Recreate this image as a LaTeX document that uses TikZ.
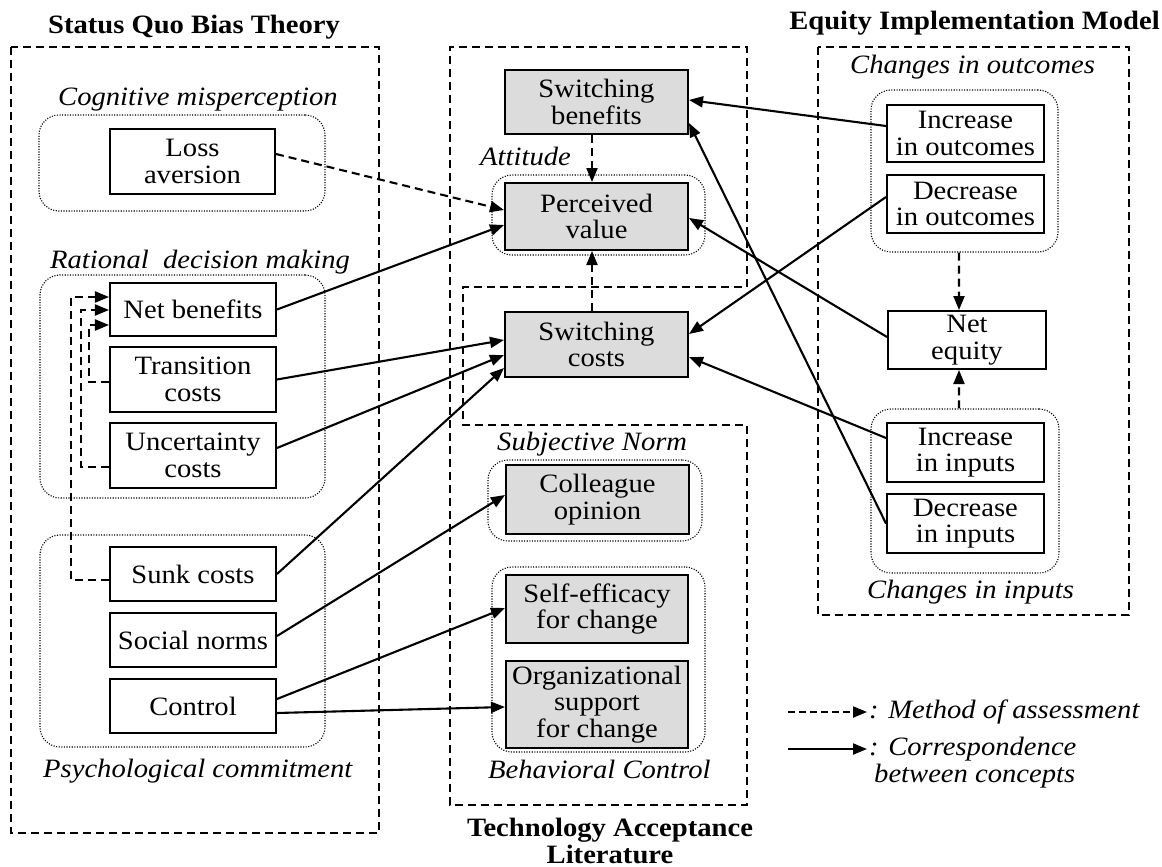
\documentclass[tikz,border=0pt]{standalone}
\usepackage{fontspec}
\setmainfont{Liberation Serif}[FakeStretch=1.08]
\usetikzlibrary{arrows.meta}
\newcommand\dfont{\fontsize{26.5bp}{26.5bp}\selectfont}
\definecolor{boxgray}{HTML}{DCDCDC}
\begin{document}
\begin{tikzpicture}[x=1bp,y=-1bp,
  every node/.style={font=\dfont, inner sep=0pt},
  cbox/.style={draw=black, line width=2bp, fill=white, align=center},
  gbox/.style={cbox, fill=boxgray},
  grp/.style={draw, line width=1.1bp, dash pattern=on 1.1bp off 1.5bp, rounded corners=20bp},
  region/.style={draw, dash pattern=on 8bp off 5bp, line width=1.8bp},
  link/.style={line width=2.1bp, -{Triangle[length=14bp,width=11bp]}},
  mlink/.style={link, dash pattern=on 8bp off 5bp},
  lab/.style={font=\dfont\itshape},
  ttl/.style={font=\dfont\bfseries}]
\useasboundingbox (0,0) rectangle (1162,867);

% regions
\draw[region] (11,47) rectangle (379,833);
\draw[region] (818,47) rectangle (1129,615);
\draw[region] (747,287) -- (747,47) -- (450,47) -- (450,805) -- (747,805) -- (747,425) -- (463,425) -- (463,287) -- cycle;

% titles
\node[ttl, anchor=base] (tsqb) at (194,33) {Status Quo Bias Theory};
\node[ttl, anchor=base east] (teim) at (1160,29) {Equity Implementation Model};
\node[ttl, anchor=north, align=center] (ttam) at (610,818) {Technology Acceptance\\Literature};

% group frames
\node[grp, minimum width=286bp, minimum height=96bp] (gcog) at (182,163) {};
\node[grp, minimum width=285bp, minimum height=223bp] (grat) at (182.5,386.5) {};
\node[grp, minimum width=285bp, minimum height=212bp] (gpsy) at (182.5,641) {};
\node[grp, minimum width=213bp, minimum height=80bp] (gatt) at (598.5,215) {};
\node[grp, minimum width=214bp, minimum height=81bp] (gsn) at (595,500.5) {};
\node[grp, minimum width=213bp, minimum height=185bp] (gbc) at (598.5,659.5) {};
\node[grp, minimum width=187bp, minimum height=162bp] (goutc) at (964.5,171) {};
\node[grp, minimum width=188bp, minimum height=164bp] (ginp) at (965,491) {};

% group labels
\node[lab, anchor=base west] (lcog) at (58,105) {Cognitive misperception};
\node[lab, anchor=base west] (lrat) at (50,268) {Rational~ decision making};
\node[lab, anchor=base west] (lpsy) at (43,777) {Psychological commitment};
\node[lab, anchor=base west] (latt) at (480,165) {Attitude};
\node[lab, anchor=base west] (lsn) at (497,450) {Subjective Norm};
\node[lab, anchor=base west] (lbc) at (488,778) {Behavioral Control};
\node[lab, anchor=base west] (lout) at (850,73) {Changes in outcomes};
\node[lab, anchor=base west] (linp) at (867,598) {Changes in inputs};

% left boxes
\node[cbox, minimum width=165bp, minimum height=65bp] (loss) at (192.5,161.5) {Loss\\aversion};
\node[cbox, minimum width=166bp, minimum height=53bp] (netb) at (193,309.5) {Net benefits};
\node[cbox, minimum width=166bp, minimum height=65bp] (trans) at (193,379.5) {Transition\\costs};
\node[cbox, minimum width=166bp, minimum height=65bp] (unc) at (193,455.5) {Uncertainty\\costs};
\node[cbox, minimum width=166bp, minimum height=54bp] (sunk) at (193,574) {Sunk costs};
\node[cbox, minimum width=166bp, minimum height=54bp] (social) at (193,640) {Social norms};
\node[cbox, minimum width=166bp, minimum height=54bp] (control) at (193,706) {Control};

% middle boxes
\node[gbox, minimum width=183bp, minimum height=64bp] (swb) at (596.5,102) {Switching\\benefits};
\node[gbox, minimum width=183bp, minimum height=67bp] (pv) at (596.5,216.5) {Perceived\\value};
\node[gbox, minimum width=183bp, minimum height=65bp] (swc) at (596.5,344.5) {Switching\\costs};
\node[gbox, minimum width=183bp, minimum height=69bp] (coll) at (597.5,499.5) {Colleague\\opinion};
\node[gbox, minimum width=182bp, minimum height=68bp] (self) at (597,609) {Self-efficacy\\for change};
\node[gbox, minimum width=182bp, minimum height=87bp] (org) at (597,704.5) {Organizational\\support\\for change};

% right boxes
\node[cbox, minimum width=157bp, minimum height=57bp] (incout) at (965.5,133.5) {Increase\\in outcomes};
\node[cbox, minimum width=157bp, minimum height=58bp] (decout) at (965.5,204) {Decrease\\in outcomes};
\node[cbox, minimum width=158bp, minimum height=58bp] (neteq) at (967,340) {Net\\equity};
\node[cbox, minimum width=157bp, minimum height=59bp] (incin) at (965.5,452.5) {Increase\\in inputs};
\node[cbox, minimum width=157bp, minimum height=59bp] (decin) at (965.5,523.5) {Decrease\\in inputs};

% method of assessment (dashed)
\draw[mlink] ([yshift=7.5bp]loss.east) -- ([yshift=6.5bp]pv.west);
\draw[mlink] ([xshift=-4.5bp]swb.south) -- ([xshift=-4.5bp]pv.north);
\draw[mlink] ([xshift=-4.5bp]swc.north) -- ([xshift=-4.5bp]pv.south);
\draw[mlink] ([xshift=-5.5bp]goutc.south) -- ([xshift=-8bp]neteq.north);
\draw[mlink] ([xshift=-6bp]ginp.north) -- ([xshift=-8bp]neteq.south);
\draw[mlink] ([yshift=-6bp]sunk.west) -- ++(-38,0) |- ([yshift=12.5bp]netb.west);
\draw[mlink] ([yshift=-11.5bp]unc.west) -- ++(-28,0) |- ([yshift=-0.5bp]netb.west);
\draw[mlink] ([yshift=-2.5bp]trans.west) -- ++(-20,0) |- ([yshift=-15.5bp]netb.west);

% correspondence (solid)
\draw[link] ([yshift=7.5bp]incout.west) -- ([yshift=2bp]swb.east);
\draw[link] (decin.west) -- ([yshift=-21bp]swb.east);
\draw[link] ([yshift=3bp]neteq.west) -- ([yshift=-1.5bp]pv.east);
\draw[link] ([yshift=7bp]decout.west) -- ([yshift=10.5bp]swc.east);
\draw[link] ([yshift=14.5bp]incin.west) -- ([yshift=-12.5bp]swc.east);
\draw[link] (netb.east) -- ([yshift=-8.5bp]pv.west);
\draw[link] (trans.east) -- ([yshift=4.5bp]swc.west);
\draw[link] ([yshift=7.5bp]unc.east) -- ([yshift=-10.5bp]swc.west);
\draw[link] (sunk.east) -- ([yshift=-23.5bp]swc.west);
\draw[link] ([yshift=4bp]social.east) -- ([yshift=4.5bp]coll.west);
\draw[link] ([yshift=7bp]control.east) -- ([yshift=1bp]self.west);
\draw[link] ([yshift=-7bp]control.east) -- ([yshift=-2.5bp]org.west);

% legend
\coordinate (lg1a) at (788,712);
\coordinate (lg1b) at (867,712);
\coordinate (lg2a) at (788,749);
\coordinate (lg2b) at (867,749);
\draw[link, dash pattern=on 7bp off 4bp] (lg1a) -- (lg1b);
\draw[link] (lg2a) -- (lg2b);
\node[lab, anchor=base west] (lgt1) at (869,718) {: Method of assessment};
\node[lab, anchor=north west, align=left] (lgt2) at (869,737) {: Correspondence\\\hspace*{5bp}between concepts};
\end{tikzpicture}
\end{document}
